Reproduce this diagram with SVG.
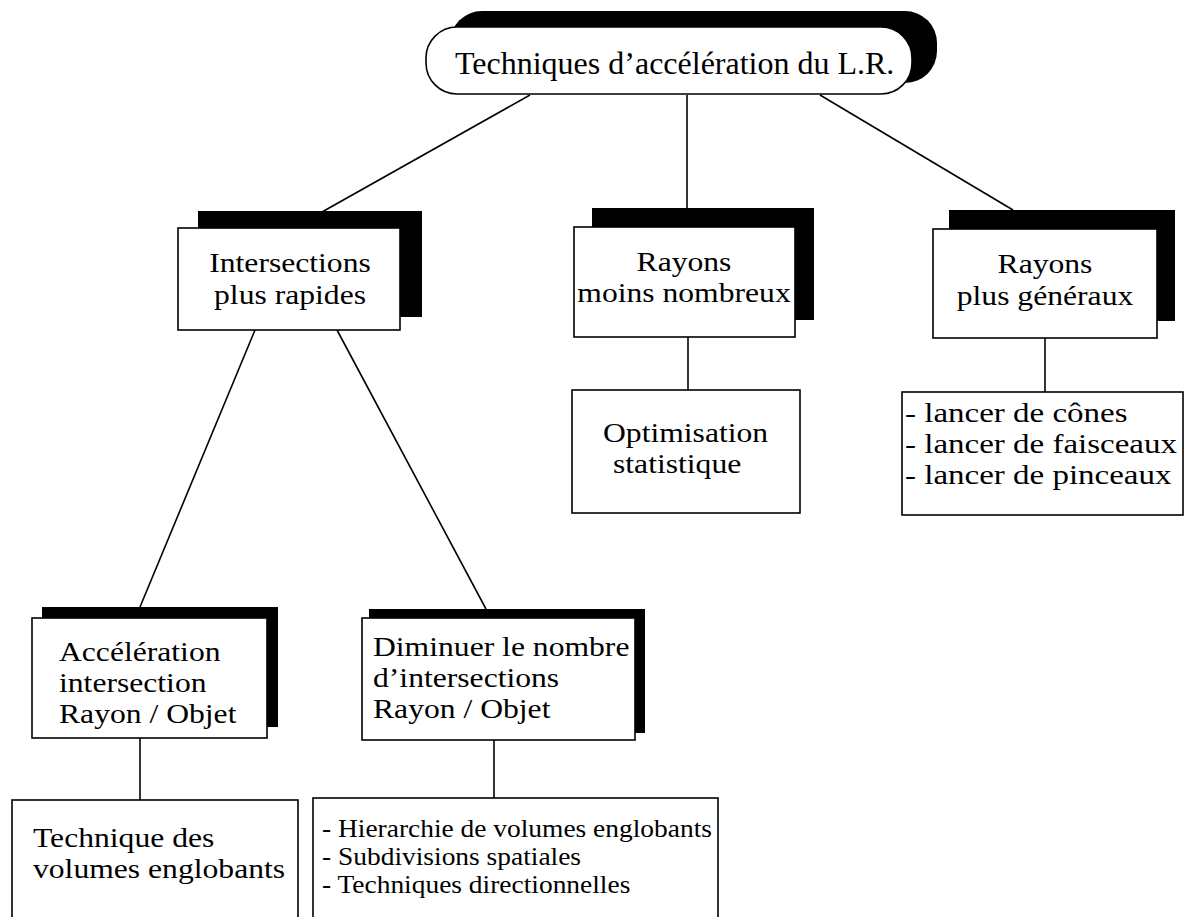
<svg xmlns="http://www.w3.org/2000/svg" width="1185" height="917" viewBox="0 0 1185 917">
<style>
.box{fill:#fff;stroke:#000;stroke-width:1.6}
.sh{fill:#000}
.t{font-family:"Liberation Serif","Times New Roman",serif;font-size:28px;fill:#000}
.h{font-family:"Liberation Serif","Times New Roman",serif;font-size:32px;fill:#000}
.l{font-family:"Liberation Serif","Times New Roman",serif;font-size:27.5px;fill:#000}
.s{font-family:"Liberation Serif","Times New Roman",serif;font-size:24.5px;fill:#000}
.c{text-anchor:middle}
.ln{stroke:#000;stroke-width:1.6;fill:none}
</style>
<rect width="1185" height="917" fill="#fff"/>
<g id="connectors">
<line class="ln" x1="530" y1="95" x2="322" y2="212"/>
<line class="ln" x1="687" y1="95" x2="687" y2="208"/>
<line class="ln" x1="820" y1="95" x2="1013" y2="210"/>
<line class="ln" x1="255" y1="330" x2="140" y2="607"/>
<line class="ln" x1="337" y1="330" x2="486" y2="609"/>
<line class="ln" x1="688" y1="337" x2="688" y2="390"/>
<line class="ln" x1="1045" y1="338" x2="1045" y2="392"/>
<line class="ln" x1="140" y1="738" x2="140" y2="800"/>
<line class="ln" x1="494" y1="740" x2="494" y2="798"/>
</g>
<g id="root">
<rect class="sh" x="450" y="11" width="487" height="72" rx="32"/>
<rect class="box" x="426" y="27" width="486" height="67" rx="31"/>
<text class="h" x="455" y="74">Techniques d’accélération du L.R.</text>
</g>
<g id="intersections">
<rect class="sh" x="198" y="211" width="224" height="106"/>
<rect class="box" x="178" y="228" width="222" height="102"/>
<text class="t c" transform="translate(290 272) scale(1.13 1)">Intersections</text>
<text class="t c" transform="translate(290 304) scale(1.13 1)">plus rapides</text>
</g>
<g id="moins">
<rect class="sh" x="592" y="208" width="222" height="112"/>
<rect class="box" x="574" y="227" width="221" height="110"/>
<text class="t c" transform="translate(684 271) scale(1.13 1)">Rayons</text>
<text class="t c" transform="translate(684 302) scale(1.13 1)">moins nombreux</text>
</g>
<g id="generaux">
<rect class="sh" x="949" y="210" width="226" height="111"/>
<rect class="box" x="933" y="229" width="224" height="109"/>
<text class="t c" transform="translate(1045 273) scale(1.13 1)">Rayons</text>
<text class="t c" transform="translate(1045 305) scale(1.13 1)">plus généraux</text>
</g>
<g id="optimisation">
<rect class="box" x="572" y="390" width="228" height="123"/>
<text class="t" transform="translate(603 442) scale(1.13 1)">Optimisation</text>
<text class="t" transform="translate(613 473) scale(1.13 1)">statistique</text>
</g>
<g id="lancer">
<rect class="box" x="902" y="392" width="281" height="123"/>
<text class="l" transform="translate(905 422) scale(1.2 1)">- lancer de cônes</text>
<text class="l" transform="translate(905 453) scale(1.2 1)">- lancer de faisceaux</text>
<text class="l" transform="translate(905 484) scale(1.2 1)">- lancer de pinceaux</text>
</g>
<g id="acceleration">
<rect class="sh" x="42" y="607" width="236" height="120"/>
<rect class="box" x="32" y="618" width="235" height="120"/>
<text class="t" transform="translate(59 661) scale(1.13 1)">Accélération</text>
<text class="t" transform="translate(59 692) scale(1.13 1)">intersection</text>
<text class="t" transform="translate(59 723) scale(1.13 1)">Rayon / Objet</text>
</g>
<g id="diminuer">
<rect class="sh" x="369" y="609" width="276" height="124"/>
<rect class="box" x="362" y="618" width="273" height="122"/>
<text class="t" transform="translate(373 656) scale(1.13 1)">Diminuer le nombre</text>
<text class="t" transform="translate(373 687) scale(1.13 1)">d’intersections</text>
<text class="t" transform="translate(373 718) scale(1.13 1)">Rayon / Objet</text>
</g>
<g id="englobants">
<rect class="box" x="12" y="800" width="286" height="130"/>
<text class="t" transform="translate(33 847) scale(1.13 1)">Technique des</text>
<text class="t" transform="translate(33 878) scale(1.13 1)">volumes englobants</text>
</g>
<g id="liste">
<rect class="box" x="313" y="798" width="405" height="130"/>
<text class="s" transform="translate(322 837) scale(1.12 1)">- Hierarchie de volumes englobants</text>
<text class="s" transform="translate(322 865) scale(1.12 1)">- Subdivisions spatiales</text>
<text class="s" transform="translate(322 893) scale(1.12 1)">- Techniques directionnelles</text>
</g>
</svg>
